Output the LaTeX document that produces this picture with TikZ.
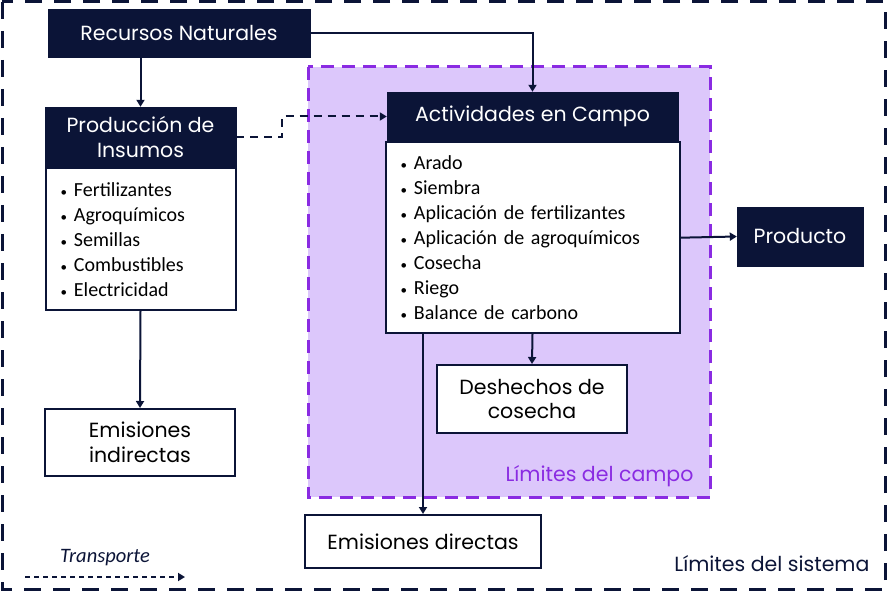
\documentclass[tikz,border=0pt]{standalone}
\usepackage{fontspec}
\setmainfont{Poppins}
\newfontfamily\listfont{Carlito}
\usetikzlibrary{positioning,arrows.meta}
\definecolor{navy}{HTML}{0B1437}
\definecolor{campo}{HTML}{DCC7FB}
\definecolor{campoline}{HTML}{8A2BE2}
\newcommand\bul{{\fontsize{13}{13}\selectfont\textbullet}\hspace{7pt}}

\tikzset{
  head/.style={fill=navy, draw=navy, text=white, align=center, inner sep=0pt,
    font=\fontsize{20.5}{25}\selectfont},
  listbox/.style={draw=navy, fill=white, line width=2pt, align=left, inner ysep=0pt,
    font=\listfont\fontsize{20}{25}\selectfont},
  whitebox/.style={draw=navy, fill=white, line width=2pt, align=center, inner sep=0pt,
    font=\fontsize{20.5}{24.5}\selectfont},
  flow/.style={draw=navy, line width=2pt, -{Triangle[length=7pt,width=8pt]}},
}

\begin{document}
\begin{tikzpicture}[x=1pt,y=-1pt]
  \useasboundingbox (0,0) rectangle (887,591);
  % limites del sistema
  \draw[navy, line width=3pt, dash pattern=on 17pt off 12pt] (2,2) rectangle (885,589);
  % limites del campo
  \fill[campo] (308,67) rectangle (710,497);
  \draw[campoline, line width=3pt, dash pattern=on 13pt off 8pt] (308,67) rectangle (710,497);
  \node[campoline, anchor=base east, font=\fontsize{20.5}{24}\selectfont] (limcampo) at (697,481) {Límites del campo};
  \node[navy, anchor=base east, font=\fontsize{20.5}{24}\selectfont] (limsis) at (873,571) {Límites del sistema};

  \node[head, minimum width=262pt, minimum height=48pt] (rec) at (179,33) {Recursos Naturales};
  \node[head, minimum width=191pt, minimum height=60pt] (prod) at (140.5,137) {Producción de\\Insumos};
  \node[listbox, below=0pt of prod, text width=160pt, inner xsep=15pt, minimum height=142pt] (prodlist)
    {\bul Fertilizantes\\ \bul Agroquímicos\\ \bul Semillas\\
     \bul Combustibles\\ \bul Electricidad};
  \node[head, minimum width=291pt, minimum height=49pt] (act) at (532.5,116.5) {Actividades en Campo};
  \node[listbox, below=0pt of act, text width=264pt, inner xsep=15pt, minimum height=191pt] (actlist)
    {\bul Arado\\ \bul Siembra\\ \bul Aplicación de fertilizantes\\
     \bul Aplicación de agroquímicos\\ \bul Cosecha\\ \bul Riego\\
     \bul Balance de carbono};
  \node[head, minimum width=126pt, minimum height=59pt] (prodto) at (800,236.5) {Producto};
  \node[whitebox, minimum width=190pt, minimum height=68pt] (desh) at (532,399) {Deshechos de\\cosecha};
  \node[whitebox, minimum width=236pt, minimum height=53pt] (dir) at (423,541.5) {Emisiones directas};
  \node[whitebox, minimum width=190pt, minimum height=67pt] (ind) at (140,442.5) {Emisiones\\indirectas};

  \draw[flow] (prod.north |- rec.south) -- (prod.north);
  \draw[flow] (rec.east) -| (act.north);
  \draw[flow, dash pattern=on 8pt off 6pt] (prod.east) -- ++(46,0) |- (act.west);
  \draw[flow] (actlist.east) -- (prodto.west);
  \draw[flow] (actlist.south) -- (desh.north);
  \draw[flow] (actlist.south -| dir.north) -- (dir.north);
  \draw[flow] (prodlist.south) -- (ind.north);

  % leyenda
  \node[navy, font=\listfont\itshape\fontsize{20.5}{24}\selectfont] (trans) at (105,558) {Transporte};
  \coordinate (tr1) at (25,577);
  \coordinate (tr2) at (185,577);
  \draw[flow, dash pattern=on 5pt off 4pt] (tr1) -- (tr2);
\end{tikzpicture}
\end{document}
